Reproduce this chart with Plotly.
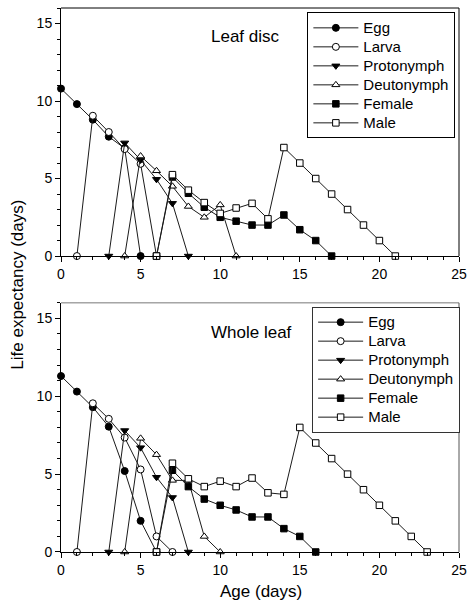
import plotly.graph_objects as go

# ---------------- data ----------------
stages = ["Egg", "Larva", "Protonymph", "Deutonymph", "Female", "Male"]

# Leaf disc (top panel)
disc_egg_x = [0, 1, 2, 3, 4, 5]
disc_egg_y = [10.8, 9.8, 8.8, 7.7, 6.95, 0]
disc_larva_x = [1, 2, 3, 4, 5, 6]
disc_larva_y = [0, 9.05, 8.0, 6.9, 5.95, 0]
disc_proto_x = [3, 4, 5, 6, 7, 8]
disc_proto_y = [0, 7.3, 6.2, 4.95, 3.4, 0]
disc_deuto_x = [4, 5, 6, 7, 8, 9, 10, 11]
disc_deuto_y = [0, 6.45, 5.5, 4.5, 3.2, 2.5, 3.3, 0]
disc_female_x = [6, 7, 8, 9, 10, 11, 12, 13, 14, 15, 16, 17]
disc_female_y = [0, 5.1, 4.05, 3.15, 2.5, 2.25, 2.0, 2.0, 2.65, 1.7, 1.0, 0]
disc_male_x = [6, 7, 8, 9, 10, 11, 12, 13, 14, 15, 16, 17, 18, 19, 20, 21]
disc_male_y = [0, 5.25, 4.25, 3.45, 2.75, 3.1, 3.4, 2.4, 7.0, 6.0, 5.0, 4.0, 3.0, 2.0, 1.0, 0]

# Whole leaf (bottom panel)
whole_egg_x = [0, 1, 2, 3, 4, 5, 6]
whole_egg_y = [11.3, 10.3, 9.3, 8.05, 5.2, 2.0, 0]
whole_larva_x = [1, 2, 3, 4, 5, 6, 7]
whole_larva_y = [0, 9.55, 8.55, 7.35, 5.3, 1.0, 0]
whole_proto_x = [3, 4, 5, 6, 7, 8]
whole_proto_y = [0, 7.8, 6.7, 4.8, 3.5, 0]
whole_deuto_x = [4, 5, 6, 7, 8, 9, 10]
whole_deuto_y = [0, 7.3, 6.25, 4.6, 4.6, 1.0, 0]
whole_female_x = [6, 7, 8, 9, 10, 11, 12, 13, 14, 15, 16]
whole_female_y = [0, 5.25, 4.2, 3.4, 3.0, 2.7, 2.25, 2.25, 1.5, 1.0, 0]
whole_male_x = [6, 7, 8, 9, 10, 11, 12, 13, 14, 15, 16, 17, 18, 19, 20, 21, 22, 23]
whole_male_y = [0, 5.7, 4.7, 4.2, 4.55, 4.2, 4.75, 3.8, 3.7, 8.0, 7.0, 6.0, 5.0, 4.0, 3.0, 2.0, 1.0, 0]

x_tick_vals = [0, 5, 10, 15, 20, 25]
y_tick_vals = [0, 5, 10, 15]

# ---------------- styles ----------------
symbols = ["circle", "circle-open", "triangle-down", "triangle-up-open", "square", "square-open"]
FONT = "Liberation Sans, Arial, sans-serif"

panels = [
    ("Leaf disc", "x", "y", "legend",
     [(disc_egg_x, disc_egg_y), (disc_larva_x, disc_larva_y), (disc_proto_x, disc_proto_y),
      (disc_deuto_x, disc_deuto_y), (disc_female_x, disc_female_y), (disc_male_x, disc_male_y)]),
    ("Whole leaf", "x2", "y2", "legend2",
     [(whole_egg_x, whole_egg_y), (whole_larva_x, whole_larva_y), (whole_proto_x, whole_proto_y),
      (whole_deuto_x, whole_deuto_y), (whole_female_x, whole_female_y), (whole_male_x, whole_male_y)]),
]

fig = go.Figure()
for title, xa, ya, lg, series in panels:
    for name, sym, (xs, ys) in zip(stages, symbols, series):
        filled = not sym.endswith("open")
        base = sym.replace("-open", "")
        fig.add_trace(go.Scatter(
            x=xs, y=ys,
            name=f"<span style='font-size:15px'>{name}</span>",
            mode="lines+markers",
            xaxis=xa, yaxis=ya, legend=lg, cliponaxis=False,
            line=dict(color="#1a1a1a", width=1),
            marker=dict(symbol=base, size=7 if base != "square" else 6.5,
                        color="black" if filled else "white",
                        line=dict(color="black", width=1)),
        ))

top_dom = [0.544, 1.0]
bot_dom = [0.0, 0.458]

axis_common_x = dict(range=[0, 25], tickvals=x_tick_vals, ticks="outside", ticklen=5,
                     tickcolor="black", showline=True, linecolor="black", linewidth=1,
                     showgrid=False, zeroline=False,
                     tickfont=dict(family=FONT, size=14, color="black"),
                     minor=dict(dtick=1, ticks="outside", ticklen=3, tickcolor="black"))
axis_common_y = dict(range=[0, 16], tickvals=y_tick_vals, ticks="outside", ticklen=5,
                     tickcolor="black", showline=True, linecolor="black", linewidth=1,
                     showgrid=False, zeroline=False,
                     tickfont=dict(family=FONT, size=14, color="black"),
                     minor=dict(dtick=1, ticks="outside", ticklen=3, tickcolor="black"))

fig.update_layout(
    width=475, height=606,
    margin=dict(l=61, r=9, t=8, b=54),
    paper_bgcolor="white", plot_bgcolor="white",
    font=dict(family=FONT, size=14, color="black"),
    xaxis=dict(domain=[0, 1], anchor="y", **axis_common_x),
    yaxis=dict(domain=top_dom, anchor="x", **axis_common_y),
    xaxis2=dict(domain=[0, 1], anchor="y2", **axis_common_x),
    yaxis2=dict(domain=bot_dom, anchor="x2", **axis_common_y),
    legend=dict(x=0.619, y=0.992, xanchor="left", yanchor="top",
                bordercolor="black", borderwidth=1, bgcolor="white", itemwidth=45,
                font=dict(family=FONT, size=12, color="black"), tracegroupgap=0),
    legend2=dict(x=0.631, y=0.451, xanchor="left", yanchor="top",
                 bordercolor="#333333", borderwidth=1, bgcolor="white", itemwidth=45,
                 font=dict(family=FONT, size=12, color="black"), tracegroupgap=0),
    showlegend=True,
    annotations=[
        dict(text="Leaf disc", x=0.373, y=0.947, xref="paper", yref="paper",
             xanchor="left", yanchor="middle", showarrow=False,
             font=dict(family=FONT, size=17, color="black")),
        dict(text="Whole leaf", x=0.373, y=0.404, xref="paper", yref="paper",
             xanchor="left", yanchor="middle", showarrow=False,
             font=dict(family=FONT, size=17, color="black")),
        dict(text="Life expectancy (days)", x=-0.1086, y=0.491, xref="paper", yref="paper",
             xanchor="center", yanchor="middle", textangle=-90, showarrow=False,
             font=dict(family=FONT, size=17, color="black")),
        dict(text="Age (days)", x=0.503, y=-0.073, xref="paper", yref="paper",
             xanchor="center", yanchor="middle", showarrow=False,
             font=dict(family=FONT, size=17, color="black")),
    ],
    shapes=[
        dict(type="line", xref="paper", yref="paper", x0=0, x1=1, y0=1, y1=1,
             line=dict(color="black", width=1)),
        dict(type="line", xref="paper", yref="paper", x0=1, x1=1, y0=top_dom[0], y1=1,
             line=dict(color="black", width=1)),
        dict(type="line", xref="paper", yref="paper", x0=0, x1=1, y0=bot_dom[1], y1=bot_dom[1],
             line=dict(color="#777777", width=1)),
        dict(type="line", xref="paper", yref="paper", x0=1, x1=1, y0=0, y1=bot_dom[1],
             line=dict(color="#555555", width=1)),
    ],
)

fig.write_html("out.html", config={"displayModeBar": False},
               post_script="document.body.style.margin='0';")
